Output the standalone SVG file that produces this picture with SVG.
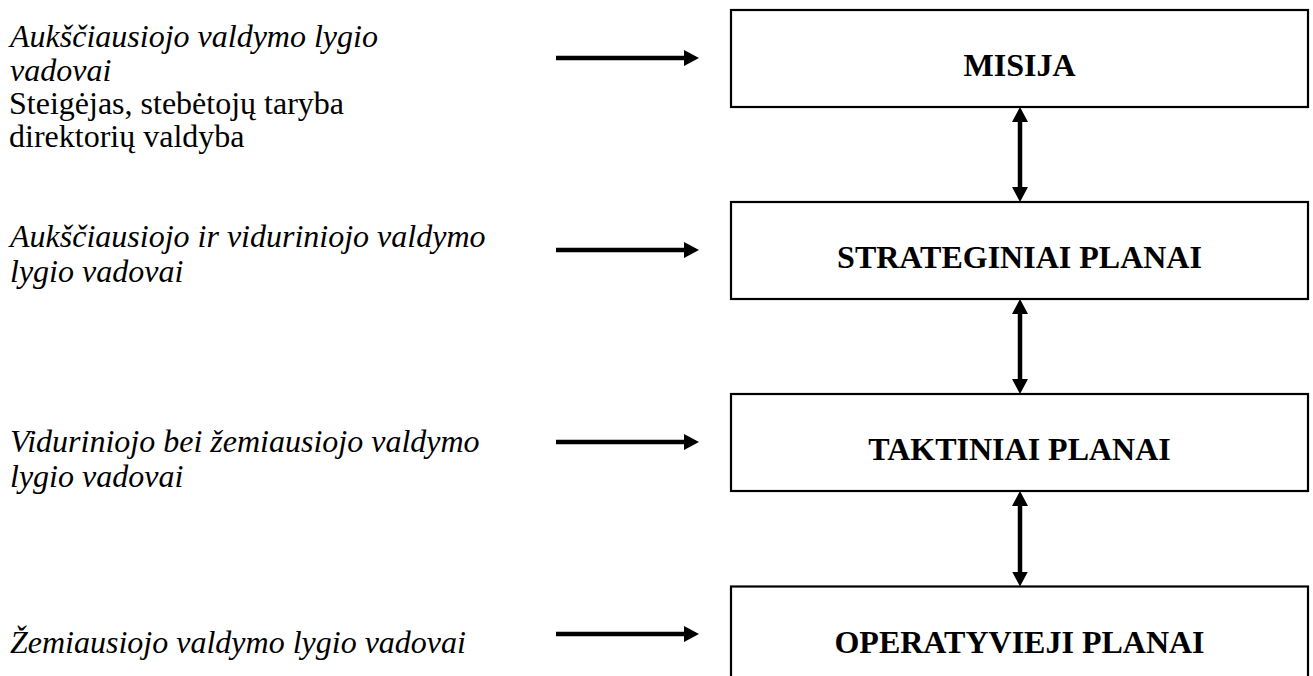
<svg xmlns="http://www.w3.org/2000/svg" width="1313" height="676" viewBox="0 0 1313 676">
<style>
.lbl{font-family:"Liberation Serif","Times New Roman",serif;font-size:32px;fill:#000}
.it{font-style:italic}
.box{fill:#fff;stroke:#000;stroke-width:2.2}
.bt{font-family:"Liberation Serif","Times New Roman",serif;font-size:32px;font-weight:bold;fill:#000;text-anchor:middle}
.arr{stroke:#000;stroke-width:4.5;fill:none}
</style>
<defs>
<marker id="ah" viewBox="0 0 15 16" refX="1" refY="8" markerWidth="15" markerHeight="16" markerUnits="userSpaceOnUse" orient="auto-start-reverse">
<path d="M0,0 L15,8 L0,16 z" fill="#000"/>
</marker>
</defs>
<rect width="1313" height="676" fill="#fff"/>
<g id="labels">
<g id="label1">
<text class="lbl it" x="10" y="47">Aukščiausiojo valdymo lygio</text>
<text class="lbl it" x="10" y="81">vadovai</text>
<text class="lbl" x="9" y="114">Steigėjas, stebėtojų taryba</text>
<text class="lbl" x="9" y="147">direktorių valdyba</text>
</g>
<g id="label2">
<text class="lbl it" x="10" y="247">Aukščiausiojo ir viduriniojo valdymo</text>
<text class="lbl it" x="10" y="282">lygio vadovai</text>
</g>
<g id="label3">
<text class="lbl it" x="10" y="452">Viduriniojo bei žemiausiojo valdymo</text>
<text class="lbl it" x="10" y="487">lygio vadovai</text>
</g>
<g id="label4">
<text class="lbl it" x="10" y="653">Žemiausiojo valdymo lygio vadovai</text>
</g>
</g>
<g id="node-misija">
<rect class="box" x="731" y="10" width="577" height="97"/>
<text class="bt" x="1019.5" y="76">MISIJA</text>
</g>
<g id="node-strateginiai">
<rect class="box" x="731" y="202" width="577" height="97"/>
<text class="bt" x="1019.5" y="268">STRATEGINIAI PLANAI</text>
</g>
<g id="node-taktiniai">
<rect class="box" x="731" y="394" width="577" height="97"/>
<text class="bt" x="1019.5" y="460">TAKTINIAI PLANAI</text>
</g>
<g id="node-operatyvieji">
<rect class="box" x="731" y="586.5" width="577" height="120"/>
<text class="bt" x="1019.5" y="652.5">OPERATYVIEJI PLANAI</text>
</g>
<g id="connectors">
<line class="arr" x1="556" y1="58" x2="685" y2="58" marker-end="url(#ah)"/>
<line class="arr" x1="556" y1="250" x2="685" y2="250" marker-end="url(#ah)"/>
<line class="arr" x1="556" y1="442" x2="685" y2="442" marker-end="url(#ah)"/>
<line class="arr" x1="556" y1="634" x2="685" y2="634" marker-end="url(#ah)"/>
<line class="arr" x1="1020" y1="121" x2="1020" y2="188" marker-start="url(#ah)" marker-end="url(#ah)"/>
<line class="arr" x1="1020" y1="313" x2="1020" y2="380" marker-start="url(#ah)" marker-end="url(#ah)"/>
<line class="arr" x1="1020" y1="505" x2="1020" y2="572.5" marker-start="url(#ah)" marker-end="url(#ah)"/>
</g>
</svg>
